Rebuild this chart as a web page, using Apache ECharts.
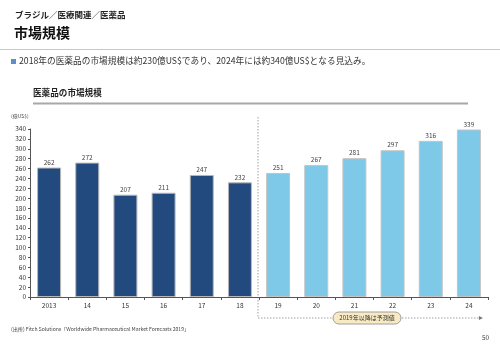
<!DOCTYPE html>
<html><head><meta charset="utf-8">
<script src="https://cdn.jsdelivr.net/npm/echarts@6/dist/echarts.min.js"></script>
<style>html,body{margin:0;padding:0;background:#fff}#c{width:500px;height:346px}</style>
</head><body><div id="c"></div>
<script>
var categories = ['2013','14','15','16','17','18','19','20','21','22','23','24'];
var actualValues = [262,272,207,211,247,232,null,null,null,null,null,null];
var forecastValues = [null,null,null,null,null,null,251,267,281,297,316,339];
var yTicks = {min:0, max:340, interval:20};
var FONT = '"Noto Sans CJK JP","Noto Sans",sans-serif';

var chart = echarts.init(document.getElementById('c'), null, {renderer:'canvas'});
var labelCfg = {show:true, position:'top', distance:2, fontSize:6.5, color:'#444', fontFamily:FONT};
chart.setOption({
  animation:false,
  grid:{left:30, right:12, top:129, bottom:49, containLabel:false},
  xAxis:{type:'category', data:categories,
    axisLine:{lineStyle:{color:'#555', width:1}},
    axisTick:{show:true, alignWithLabel:false, length:3, lineStyle:{color:'#555'}},
    axisLabel:{fontSize:6.5, color:'#333', margin:5, fontFamily:FONT}},
  yAxis:{type:'value', min:yTicks.min, max:yTicks.max, interval:yTicks.interval,
    axisLine:{show:true, lineStyle:{color:'#555', width:1}},
    axisTick:{show:true, length:2, lineStyle:{color:'#555'}},
    splitLine:{show:false},
    axisLabel:{fontSize:6.5, color:'#333', margin:4, fontFamily:FONT}},
  series:[
    {type:'bar', data:actualValues, barWidth:24, barGap:'-100%',
     itemStyle:{color:'#234A7E', borderColor:'#b8b8b8', borderWidth:1}, label:labelCfg},
    {type:'bar', data:forecastValues, barWidth:24,
     itemStyle:{color:'#7EC9E8', borderColor:'#c4c4c4', borderWidth:1}, label:labelCfg}
  ]
});

var x5 = chart.convertToPixel({xAxisIndex:0}, categories[5]);
var x6 = chart.convertToPixel({xAxisIndex:0}, categories[6]);
var xs = (x5 + x6) / 2 - 1;
var xEnd = chart.convertToPixel({xAxisIndex:0}, categories[11]) + 10;
var yLine = 318;
var boxCx = 367;

chart.setOption({graphic:[
  {type:'text', left:15, top:11, style:{text:'ブラジル／医療関連／医薬品', font:'bold 8.5px '+FONT, fill:'#222'}},
  {type:'text', left:14, top:26, style:{text:'市場規模', font:'bold 14px '+FONT, fill:'#111'}},
  {type:'line', shape:{x1:0, y1:49.5, x2:500, y2:49.5}, style:{stroke:'#c8c8c8', lineWidth:1}},
  {type:'rect', shape:{x:11, y:59, width:5, height:5}, style:{fill:'#5b8fc9'}},
  {type:'text', left:19, top:56, style:{text:'2018年の医薬品の市場規模は約230億US$であり、2024年には約340億US$となる見込み。', font:'8.7px '+FONT, fill:'#333'}},
  {type:'text', left:33, top:88.5, style:{text:'医薬品の市場規模', font:'bold 8.6px '+FONT, fill:'#222'}},
  {type:'line', shape:{x1:33, y1:103.5, x2:468, y2:103.5}, style:{stroke:'#a8a8a8', lineWidth:2}},
  {type:'text', left:11, top:114, style:{text:'(億US$)', font:'5px '+FONT, fill:'#444'}},
  {type:'polyline', shape:{points:[[xs,117],[xs,yLine],[xEnd,yLine]]}, style:{stroke:'#888', lineWidth:0.8, lineDash:[1.5,1.5], fill:null}},
  {type:'polygon', shape:{points:[[xEnd,yLine-2],[xEnd+4,yLine],[xEnd,yLine+2]]}, style:{fill:'#777'}},
  {type:'rect', shape:{x:boxCx-34, y:yLine-6, width:68, height:12, r:6}, style:{fill:'#f8ebc4', stroke:'#888', lineWidth:0.8}},
  {type:'text', x:boxCx, y:yLine, style:{text:'2019年以降は予測値', font:'6px '+FONT, fill:'#333', textAlign:'center', textVerticalAlign:'middle'}},
  {type:'text', left:11, top:327, style:{text:'(出所) Fitch Solutions「Worldwide Pharmaceutical Market Forecasts 2019」', font:'5.1px '+FONT, fill:'#444'}},
  {type:'text', left:482, top:334, style:{text:'50', font:'6.5px '+FONT, fill:'#444'}}
]});
</script></body></html>
